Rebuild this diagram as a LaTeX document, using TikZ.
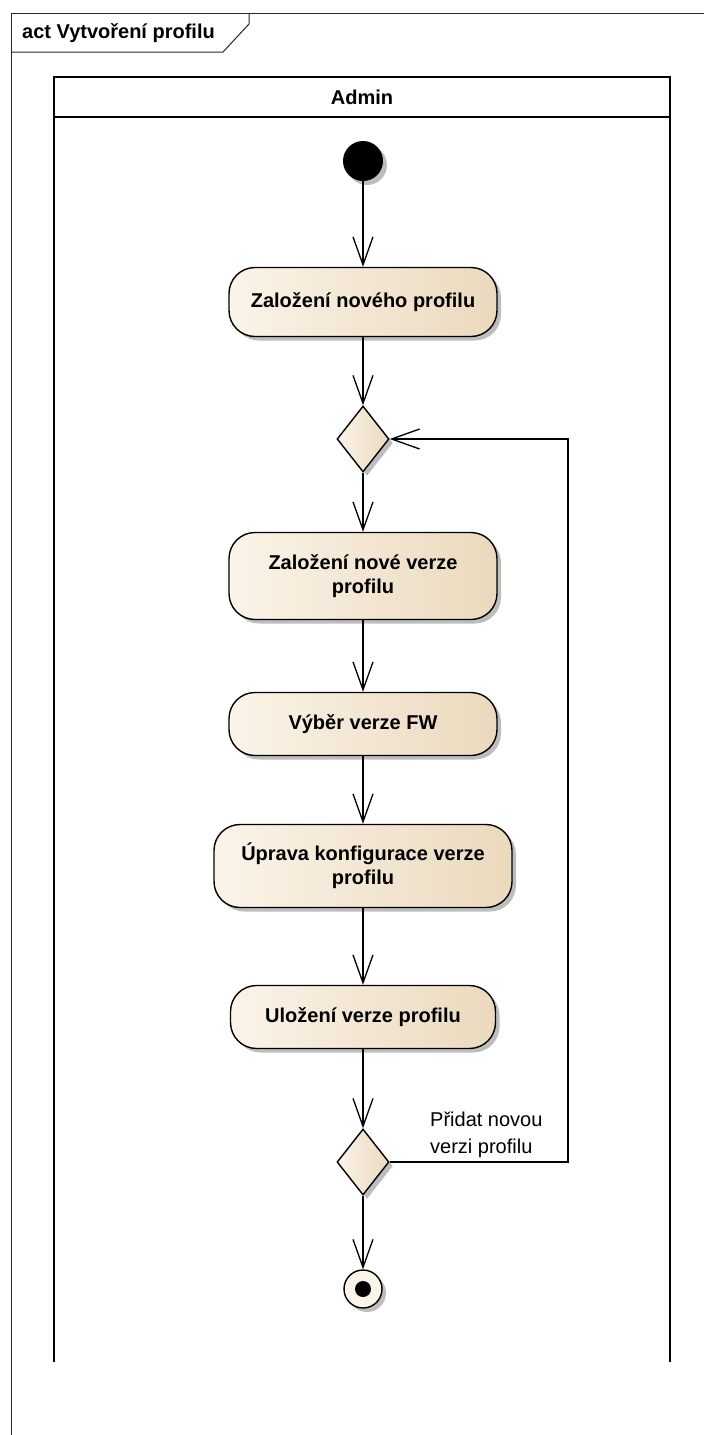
\documentclass[tikz,border=0pt]{standalone}
\usepackage{fontspec}
\setmainfont{Liberation Sans}
\usetikzlibrary{arrows.meta,shapes.geometric,shadows}

\definecolor{creamL}{HTML}{FBF4E9}
\definecolor{creamR}{HTML}{EBD9BD}
\definecolor{shadowgray}{HTML}{BDBDBD}

\tikzset{
  shadowed/.style={drop shadow={shadow xshift=4pt,shadow yshift=-4pt,fill=shadowgray,opacity=1}},
  actbox/.style={draw=black, line width=1.4pt, rounded corners=26pt,
    left color=creamL, right color=creamR, shadowed,
    align=center, inner sep=0pt,
    font=\fontsize{20}{24}\selectfont\bfseries},
  decision/.style={diamond, draw=black, line width=1.4pt, inner sep=0pt,
    minimum width=52pt, minimum height=66pt,
    left color=creamL, right color=creamR, shadowed},
  initial/.style={circle, fill=black, inner sep=0pt, minimum size=40pt, shadowed},
  final/.style={circle, draw=black, line width=1.4pt, fill=creamL, inner sep=0pt,
    minimum size=38pt, shadowed,
    path picture={\fill[black] (path picture bounding box.center) circle (8pt);}},
  flow/.style={line width=1.3pt, -{Straight Barb[length=28pt,width=20pt]}},
  frameline/.style={line width=1pt, draw=black!85},
  laneline/.style={line width=2pt, draw=black},
  guardtext/.style={font=\fontsize{20}{26.5}\selectfont, align=left, inner sep=0pt}
}

\begin{document}
\begin{tikzpicture}[x=1pt,y=-1pt]
  \useasboundingbox (0,0) rectangle (704,1435);

  % diagram frame with its name tab
  \draw[frameline] (11,1435) -- (11,13) -- (704,13);
  \draw[frameline] (11,52) -- (223,52) -- (249,24) -- (249,13);
  \node[anchor=west, inner sep=0pt, font=\fontsize{20}{24}\selectfont\bfseries]
    (title) at (22,33) {act Vytvoření profilu};

  % swimlane
  \draw[laneline] (54,1362) -- (54,77) -- (670,77) -- (670,1362);
  \draw[laneline] (54,117) -- (670,117);
  \node[font=\fontsize{20}{24}\selectfont\bfseries] (lane) at (362,97) {Admin};

  % activity nodes
  \node[initial] (start) at (363,161) {};
  \node[actbox, minimum width=268pt, minimum height=69pt] (a1) at (363,302)
    {Založení nového profilu};
  \node[decision] (d1) at (363,439) {};
  \node[actbox, minimum width=268pt, minimum height=87pt] (a2) at (363,576)
    {Založení nové verze\\profilu};
  \node[actbox, minimum width=268pt, minimum height=63pt] (a3) at (363,724)
    {Výběr verze FW};
  \node[actbox, minimum width=298pt, minimum height=83pt] (a4) at (363,866)
    {Úprava konfigurace verze\\profilu};
  \node[actbox, minimum width=265pt, minimum height=63pt] (a5) at (363,1017)
    {Uložení verze profilu};
  \node[decision] (d2) at (363,1162) {};
  \node[final] (end) at (363,1289) {};

  % control flows
  \draw[flow] (start) -- (a1);
  \draw[flow] (a1) -- (d1);
  \draw[flow] (d1) -- (a2);
  \draw[flow] (a2) -- (a3);
  \draw[flow] (a3) -- (a4);
  \draw[flow] (a4) -- (a5);
  \draw[flow] (a5) -- (d2);
  \draw[flow] (d2) -- (end);

  % loop back for another version
  \coordinate (loopx) at (568,0);
  \draw[flow] (d2.east) -- (d2.east -| loopx) -- (d1.east -| loopx) -- (d1.east);
  \node[guardtext, anchor=west] (guard) at (430,1135) {Přidat novou\\verzi profilu};
\end{tikzpicture}
\end{document}
